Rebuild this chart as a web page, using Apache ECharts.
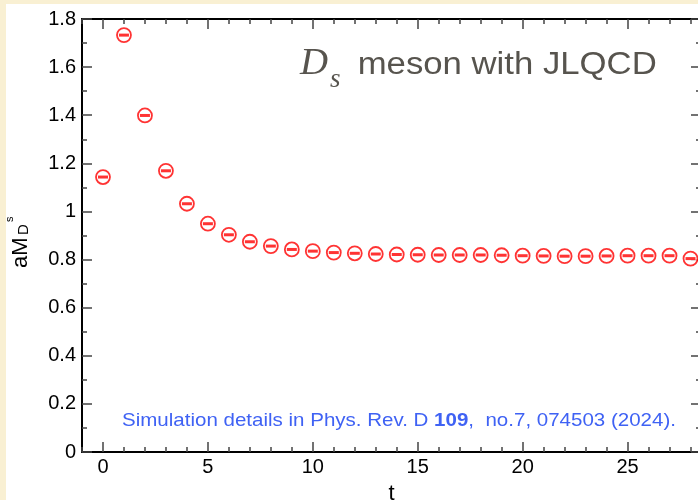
<!DOCTYPE html>
<html>
<head>
<meta charset="utf-8">
<script src="https://cdn.jsdelivr.net/npm/echarts@6/dist/echarts.min.js"></script>
<style>
html,body{margin:0;padding:0;background:#f9f0d3;}
#c{width:698px;height:500px;}
</style>
</head>
<body>
<div id="c"></div>
<script>
// ---- data ----
var tValues = [0,1,2,3,4,5,6,7,8,9,10,11,12,13,14,15,16,17,18,19,20,21,22,23,24,25,26,27,28];
var massValues = [1.143,1.733,1.399,1.169,1.032,0.949,0.903,0.874,0.856,0.842,0.835,0.829,0.826,0.823,0.821,0.820,0.819,0.819,0.819,0.818,0.816,0.815,0.814,0.814,0.815,0.816,0.816,0.816,0.804];
var xMajorTicks = [0,5,10,15,20,25];
var titleMain = ' meson with JLQCD';
var captionParts = ['Simulation details in Phys. Rev. D ', '109', ',  no.7, 074503 (2024).'];

var points = tValues.map(function(t,i){return [t, massValues[i]];});

var chart = echarts.init(document.getElementById('c'), null, {renderer:'canvas'});
var FONT = '"Liberation Sans", Arial, Helvetica, sans-serif';
var SERIF = '"Liberation Serif", "Times New Roman", serif';
var gridRect = {left:82, top:19, right:-3, bottom:48, containLabel:false, outerBoundsMode:'none'};

var majorX = function(pos, showLabel){
  return {
    type:'value', gridIndex:0, position:pos, min:-1, max:28.5,
    axisLine:{show:true, onZero:false, lineStyle:{color:'#000', width:2}},
    axisTick:{show:true, inside:true, length:10, customValues:xMajorTicks, lineStyle:{color:'#444', width:1.5}},
    axisLabel:{show:showLabel, customValues:xMajorTicks, color:'#000', fontSize:20, fontFamily:FONT, margin:5},
    splitLine:{show:false},
    name: showLabel ? 't' : '', nameLocation:'middle', nameGap:31,
    nameTextStyle:{color:'#000', fontSize:22, fontFamily:FONT}
  };
};
var minorX = function(pos){
  return {
    type:'value', gridIndex:1, position:pos, min:-1, max:28.5, interval:1,
    axisLine:{show:false},
    axisTick:{show:true, inside:true, length:5, lineStyle:{color:'#444', width:1.5}},
    axisLabel:{show:false}, splitLine:{show:false}
  };
};
var yAx = function(pos, showLabel, gi){
  return {
    type:'value', gridIndex:gi, position:pos, min:0, max:1.8, interval:0.2,
    axisLine:{show:gi===0, onZero:false, lineStyle:{color:'#000', width:2}},
    axisTick:{show:gi===0, inside:true, length:10, lineStyle:{color:'#444', width:1.5}},
    minorTick:{show:gi===0, splitNumber:2, length:5, lineStyle:{color:'#444', width:1.5}},
    axisLabel:{show:showLabel, color:'#000', fontSize:20, fontFamily:FONT, margin:6},
    splitLine:{show:false}
  };
};

var option = {
  backgroundColor:'#f9f0d3',
  animation:false,
  grid:[
    Object.assign({}, gridRect),
    Object.assign({}, gridRect)
  ],
  xAxis:[ majorX('bottom', true), majorX('top', false), minorX('bottom'), minorX('top') ],
  yAxis:[ yAx('left', true, 0), yAx('right', false, 0), yAx('left', false, 1) ],
  graphic:[
    {type:'rect', z:-100, silent:true, shape:{x:6, y:4, width:700, height:500}, style:{fill:'#ffffff'}},
    // title
    {type:'text', x:300, y:64, scaleX:1.05, style:{text:'D', font:'italic 37px '+SERIF, fill:'#57544e', align:'left', verticalAlign:'middle'}},
    {type:'text', x:330, y:80, style:{text:'s', font:'italic 27px '+SERIF, fill:'#57544e', align:'left', verticalAlign:'middle'}},
    {type:'text', x:348, y:65, scaleX:1.12, style:{text:titleMain, font:'31px '+FONT, fill:'#57544e', align:'left', verticalAlign:'middle'}},
    // caption
    {type:'text', x:122, y:421, scaleX:1.08, style:{
      text:'{n|'+captionParts[0]+'}{b|'+captionParts[1]+'}{n|'+captionParts[2]+'}',
      align:'left', verticalAlign:'middle',
      rich:{
        n:{fontSize:19, fontFamily:FONT, fill:'#3f62f4', color:'#3f62f4'},
        b:{fontSize:19, fontFamily:FONT, fontWeight:'bold', fill:'#3f62f4', color:'#3f62f4'}
      }
    }},
    // y axis name aM_{D_s}
    {type:'text', x:21, y:268, rotation:Math.PI/2, style:{text:'aM', font:'22px '+FONT, fill:'#000', align:'left', verticalAlign:'middle'}},
    {type:'text', x:24, y:235, rotation:Math.PI/2, style:{text:'D', font:'15px '+FONT, fill:'#000', align:'left', verticalAlign:'middle'}},
    {type:'text', x:10, y:222, rotation:Math.PI/2, style:{text:'s', font:'11px '+FONT, fill:'#000', align:'left', verticalAlign:'middle'}}
  ],
  series:[
    {type:'scatter', xAxisIndex:0, yAxisIndex:0, data:points, symbol:'circle', symbolSize:14,
     itemStyle:{color:'#ffffff', borderColor:'#ff0000', borderWidth:1.8}, z:3},
    {type:'scatter', xAxisIndex:0, yAxisIndex:0, data:points, symbol:'rect', symbolSize:[10,3],
     itemStyle:{color:'#ff0000'}, z:4}
  ]
};
chart.setOption(option);
</script>
</body>
</html>
